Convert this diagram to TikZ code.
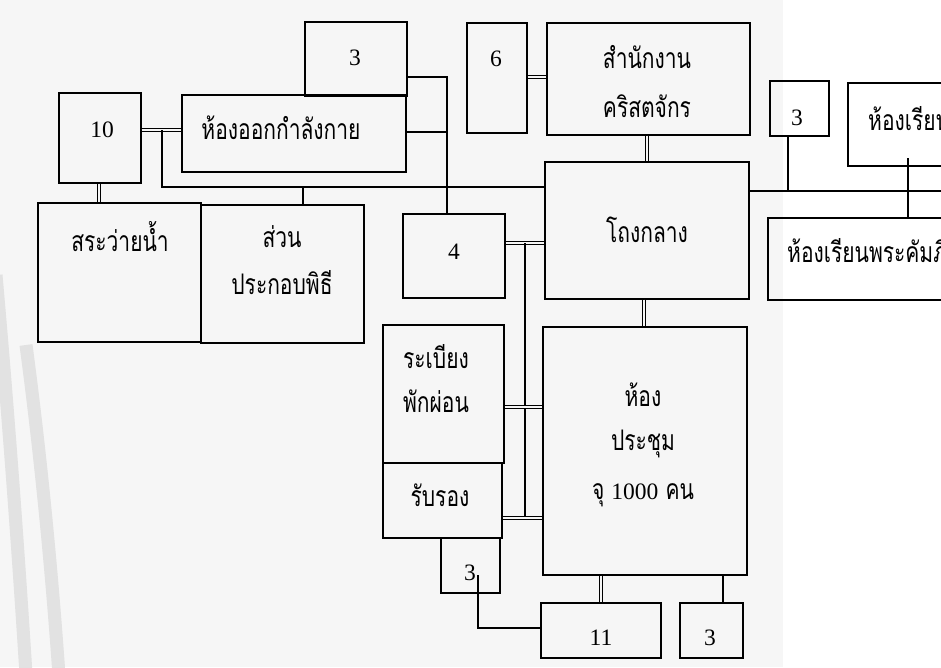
\documentclass[tikz,border=0pt]{standalone}
\usepackage{fontspec}
\usepackage{graphicx}
\setmainfont{Liberation Serif}
\newfontfamily\thai[Script=Thai]{Loma}
\newcommand\thtxt[1]{\scalebox{1}[1.35]{\thai #1}}
\usetikzlibrary{fit}
\definecolor{bgl}{HTML}{F6F6F6}
\definecolor{wmk}{HTML}{E2E2E2}
\begin{document}
\begin{tikzpicture}[x=1pt,y=-1pt,
  box/.style={draw, line width=1.4pt, inner sep=0pt},
  ln/.style={line width=1.3pt},
  dbl/.style={double=bgl, double distance=2.4pt, line width=1.1pt},
  th/.style={font=\thai\fontsize{21}{24}\selectfont, inner sep=0pt},
  num/.style={font=\fontsize{23.5}{26}\selectfont, inner sep=0pt},
  wm/.style={wmk, line width=13pt}]
\useasboundingbox (0,0) rectangle (941,667);
\clip (0,0) rectangle (941,667);
\fill[bgl] (0,0) rectangle (783,667);
\fill[white] (783,0) rectangle (941,667);
% watermark arcs
\draw[wm] (-4,275) .. controls (7,400) and (17,530) .. (27,690);
\draw[wm] (26,345) .. controls (40,450) and (52,570) .. (60,690);
% boxes
\node[box, fit={(305,22)(407,96)}] (b3a) {};
\node[box, fit={(182,95)(406,172)}] (gym) {};
\node[box, fit={(59,93)(141,183)}] (b10) {};
\node[box, fit={(38,203)(201,342)}] (pool) {};
\node[box, fit={(201,205)(364,343)}] (cere) {};
\node[box, fit={(403,214)(505,298)}] (b4) {};
\node[box, fit={(467,23)(527,133)}] (b6) {};
\node[box, fit={(547,23)(750,135)}] (office) {};
\node[box, fit={(545,162)(749,299)}] (hall) {};
\node[box, fit={(770,81)(829,136)}] (b3r) {};
\node[box, fit={(848,83)(990,166)}] (classA) {};
\node[box, fit={(768,218)(990,300)}] (classB) {};
\node[box, fit={(383,325)(504,463)}] (rest) {};
\node[box, fit={(383,463)(502,538)}] (recep) {};
\node[box, fit={(543,327)(747,575)}] (meet) {};
\node[box, fit={(441,538)(500,593)}] (b3s) {};
\node[box, fit={(541,603)(661,658)}] (b11) {};
\node[box, fit={(680,603)(743,658)}] (b3b) {};
% helper coordinates
\coordinate (y130) at (0,130);
\coordinate (y187) at (0,187);
\coordinate (y77) at (0,77);
\coordinate (y132) at (0,132);
\coordinate (y243) at (0,243);
\coordinate (y518) at (0,518);
\coordinate (y407) at (0,407);
\coordinate (y191) at (0,191);
\coordinate (y628) at (0,628);
\coordinate (x99) at (99,0);
\coordinate (x447) at (447,0);
\coordinate (x647) at (647,0);
\coordinate (x644) at (644,0);
\coordinate (x525) at (525,0);
\coordinate (x788) at (788,0);
\coordinate (x601) at (601,0);
\coordinate (x723) at (723,0);
\coordinate (j1) at (162,130);
\coordinate (j2) at (303,187);
\coordinate (t1) at (908,158);
\coordinate (s1) at (478,575);
\coordinate (rend) at (960,191);
% connectors
\draw[dbl] (b10.east |- y130) -- (gym.west |- y130);
\draw[ln] (j1) |- (hall.west |- y187);
\draw[ln] (j2) -- (cere.north -| j2);
\draw[dbl] (b10.south -| x99) -- (pool.north -| x99);
\draw[ln] (b3a.east |- y77) -| (b4.north -| x447);
\draw[ln] (gym.east |- y132) -- (x447 |- y132);
\draw[dbl] (b6.east |- y77) -- (office.west |- y77);
\draw[dbl] (office.south -| x647) -- (hall.north -| x647);
\draw[dbl] (b4.east |- y243) -- (hall.west |- y243);
\draw[ln] (x525 |- y243) -- (x525 |- y518);
\draw[dbl] (rest.east |- y407) -- (meet.west |- y407);
\draw[dbl] (recep.east |- y518) -- (meet.west |- y518);
\draw[dbl] (hall.south -| x644) -- (meet.north -| x644);
\draw[ln] (hall.east |- y191) -- (rend);
\draw[ln] (b3r.south -| x788) -- (x788 |- y191);
\draw[ln] (t1) -- (classB.north -| t1);
\draw[ln] (s1) |- (b11.west |- y628);
\draw[dbl] (meet.south -| x601) -- (b11.north -| x601);
\draw[ln] (meet.south -| x723) -- (b3b.north -| x723);
% labels
\node[num] (l3a) at (355,58) {3};
\node[th] (lgym) at (281,128) {\thtxt{ห้องออกกำลังกาย}};
\node[num] (l10) at (102,130) {10};
\node[th] (lpool) at (120,237) {\thtxt{สระว่ายน้ำ}};
\node[th] (lcere1) at (282,237) {\thtxt{ส่วน}};
\node[th] (lcere2) at (282,283) {\thtxt{ประกอบพิธี}};
\node[num] (l4) at (454,252) {4};
\node[num] (l6) at (496,59) {6};
\node[th] (loff1) at (647,57) {\thtxt{สำนักงาน}};
\node[th] (loff2) at (647,106) {\thtxt{คริสตจักร}};
\node[th] (lhall) at (647,230) {\thtxt{โถงกลาง}};
\node[num] (l3r) at (797,118) {3};
\node[th, anchor=west] (lclA) at (868,119) {\thtxt{ห้องเรียน}};
\node[th, anchor=west] (lclB) at (787,250) {\thtxt{ห้องเรียนพระคัมภีร์}};
\node[th] (lrest1) at (436,357) {\thtxt{ระเบียง}};
\node[th] (lrest2) at (436,401) {\thtxt{พักผ่อน}};
\node[th] (lrecep) at (440,495) {\thtxt{รับรอง}};
\node[th] (lmeet1) at (643,395) {\thtxt{ห้อง}};
\node[th] (lmeet2) at (643,444) {\thtxt{ประชุม}};
\node[th] (lmeet3) at (643,495) {\thtxt{จุ} {\fontspec{Liberation Serif}\fontsize{23.5}{26}\selectfont 1000} \thtxt{คน}};
\node[num] (l3s) at (470,573) {3};
\node[num] (l11) at (601,638) {11};
\node[num] (l3b) at (710,638) {3};
\end{tikzpicture}
\end{document}
